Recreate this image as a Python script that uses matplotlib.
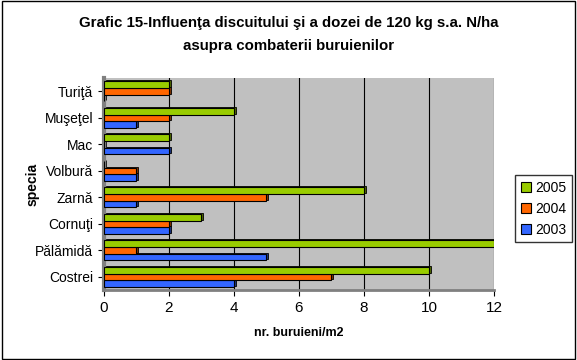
import matplotlib.pyplot as plt
import matplotlib.patches as mpatches
import numpy as np

plt.rcParams['font.family'] = ['Liberation Sans', 'DejaVu Sans']

# date
specii = ['Costrei', 'Pălămidă', 'Cornuţi', 'Zarnă', 'Volbură', 'Mac', 'Muşeţel', 'Turiţă']
ani = ['2003', '2004', '2005']
v2003 = [4, 5, 2, 1, 1, 2, 1, 0]
v2004 = [7, 1, 2, 5, 1, 0, 2, 2]
v2005 = [10, 12, 3, 8, 0, 2, 4, 2]
culori = ['#3366ff', '#ff6600', '#99cc00']
culori_umbra = ['#1a3380', '#803300', '#4d6600']

fig = plt.figure(figsize=(5.77, 3.6), dpi=100)
fig.patches.append(mpatches.Rectangle((0.003, 0.003), 0.994, 0.994, transform=fig.transFigure,
                                      fill=False, edgecolor='black', linewidth=1))

ax = fig.add_axes([0.180, 0.194, 0.676, 0.589])
ax.set_facecolor('#c0c0c0')

y = np.arange(len(specii))
h = 0.25
valori = [v2003, v2004, v2005]
for i, vals in enumerate(valori):
    pos = y - h + i * h
    # partea "3D" a barei
    ax.barh(pos + 0.04, vals, height=h, left=0.06, color=culori_umbra[i],
            edgecolor='black', linewidth=0.6, zorder=2)
    ax.barh(pos, vals, height=h, color=culori[i], edgecolor='black',
            linewidth=0.8, zorder=3, label=ani[i])

ax.set_xlim(0, 12)
ax.set_ylim(-0.5, len(specii) - 0.5)
ax.set_xticks(range(0, 13, 2))
ax.set_yticks(y)
ax.set_yticklabels(specii)
ax.xaxis.grid(True, color='black', linewidth=0.8, zorder=1)
ax.set_axisbelow(True)
ax.tick_params(axis='both', labelsize=10, length=4, color='black')
ax.tick_params(axis='x', labelsize=11)
for s in ['top', 'right']:
    ax.spines[s].set_visible(False)
ax.spines['left'].set_color('#808080')
ax.spines['left'].set_linewidth(3)
ax.spines['bottom'].set_color('#808080')
ax.spines['bottom'].set_linewidth(2)

ax.set_xlabel('nr. buruieni/m2', fontsize=9, fontweight='bold', labelpad=9)
ax.set_ylabel('specia', fontsize=10, fontweight='bold', labelpad=-3)

fig.text(0.5, 0.935, 'Grafic 15-Influenţa discuitului şi a dozei de 120 kg s.a. N/ha',
         ha='center', va='center', fontsize=10.8, fontweight='bold')
fig.text(0.5, 0.872, 'asupra combaterii buruienilor',
         ha='center', va='center', fontsize=10.8, fontweight='bold')

handles, labels = ax.get_legend_handles_labels()
leg = fig.legend(handles[::-1], labels[::-1], loc='center', bbox_to_anchor=(0.942, 0.42),
                 fontsize=10, frameon=True, fancybox=False, edgecolor='black',
                 handlelength=0.7, handleheight=0.7, handletextpad=0.3,
                 labelspacing=0.5, borderpad=0.4)
leg.get_frame().set_linewidth(1)

fig.savefig('out.png', dpi=100)
